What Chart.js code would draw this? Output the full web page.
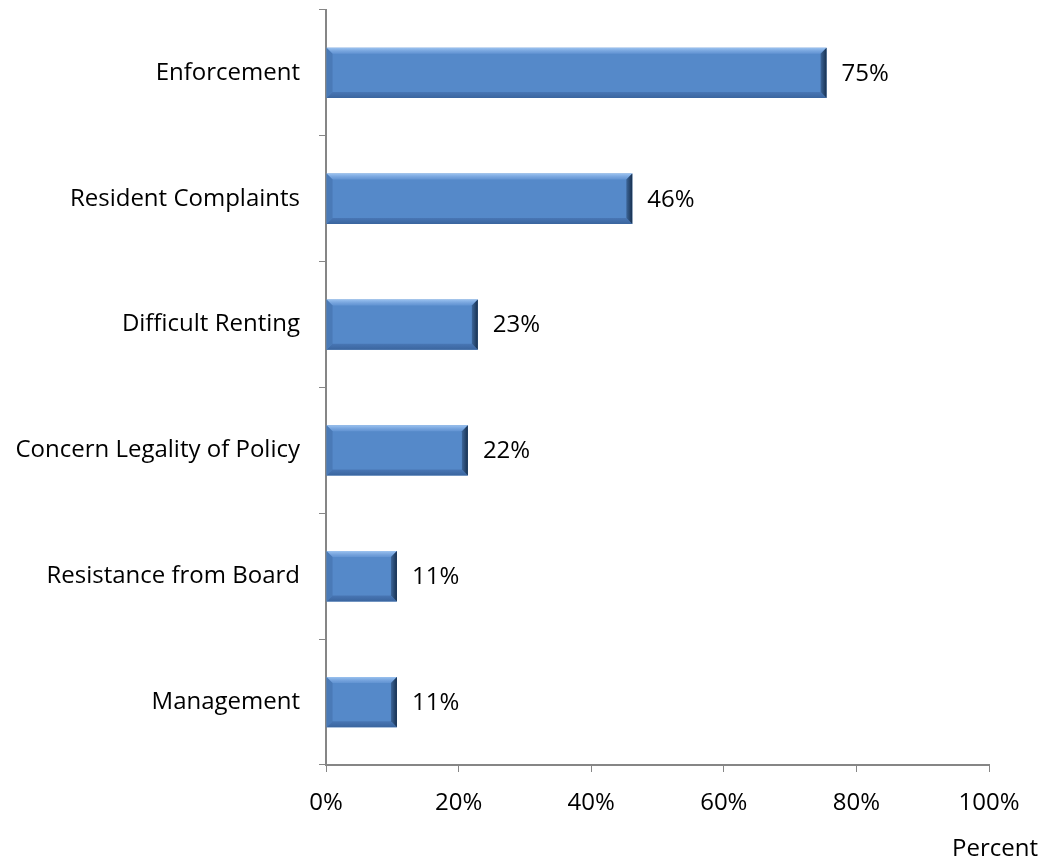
<!DOCTYPE html>
<html lang="en">
<head>
    <meta charset="UTF-8">
    <script src="https://cdn.jsdelivr.net/npm/chart.js"></script>
    <title>Chart</title>
    <style>
        body { margin: 0; background: #fff; }
        #wrap { width: 1042px; height: 859px; }
    </style>
</head>
<body>
    <div id="wrap">
      <canvas id="myChart"></canvas>
    </div>
    <script>
        // data
        const categories = ['Enforcement', 'Resident Complaints', 'Difficult Renting',
            'Concern Legality of Policy', 'Resistance from Board', 'Management'];
        const percents = [75.5, 46.2, 22.9, 21.4, 10.7, 10.7];
        const percentLabels = ['75%', '46%', '23%', '22%', '11%', '11%'];
        const xTicks = [0, 20, 40, 60, 80, 100];

        const fontFam = '"Open Sans", Lato, sans-serif';
        const axisGrey = '#868686';

        // bevel look on each bar
        const bevelPlugin = {
            id: 'bevel',
            afterDatasetsDraw(chart) {
                const ctx = chart.ctx;
                chart.getDatasetMeta(0).data.forEach((bar) => {
                    const left = bar.base, right = bar.x;
                    const top = bar.y - bar.height / 2, bottom = bar.y + bar.height / 2;
                    const b = 6;
                    ctx.save();
                    // top light
                    let g = ctx.createLinearGradient(0, top, 0, top + b);
                    g.addColorStop(0, '#9cc3f0');
                    g.addColorStop(1, 'rgba(120,165,225,0.4)');
                    ctx.fillStyle = g;
                    ctx.beginPath();
                    ctx.moveTo(left, top); ctx.lineTo(right, top);
                    ctx.lineTo(right - b, top + b); ctx.lineTo(left + b, top + b);
                    ctx.closePath(); ctx.fill();
                    // bottom dark
                    g = ctx.createLinearGradient(0, bottom - b, 0, bottom);
                    g.addColorStop(0, 'rgba(60,100,160,0.5)');
                    g.addColorStop(1, '#3a659e');
                    ctx.fillStyle = g;
                    ctx.beginPath();
                    ctx.moveTo(left, bottom); ctx.lineTo(right, bottom);
                    ctx.lineTo(right - b, bottom - b); ctx.lineTo(left + b, bottom - b);
                    ctx.closePath(); ctx.fill();
                    // right dark edge
                    g = ctx.createLinearGradient(right - b, 0, right, 0);
                    g.addColorStop(0, '#3d6699');
                    g.addColorStop(1, '#17304f');
                    ctx.fillStyle = g;
                    ctx.beginPath();
                    ctx.moveTo(right, top); ctx.lineTo(right, bottom);
                    ctx.lineTo(right - b, bottom - b); ctx.lineTo(right - b, top + b);
                    ctx.closePath(); ctx.fill();
                    // left edge
                    ctx.fillStyle = 'rgba(70,115,175,0.7)';
                    ctx.beginPath();
                    ctx.moveTo(left, top); ctx.lineTo(left, bottom);
                    ctx.lineTo(left + b, bottom - b); ctx.lineTo(left + b, top + b);
                    ctx.closePath(); ctx.fill();
                    ctx.restore();
                });
            }
        };

        // value labels and the axis title
        const textPlugin = {
            id: 'texts',
            afterDraw(chart) {
                const ctx = chart.ctx;
                ctx.save();
                ctx.font = '24px ' + fontFam;
                ctx.fillStyle = '#000';
                ctx.textBaseline = 'middle';
                ctx.textAlign = 'left';
                chart.getDatasetMeta(0).data.forEach((bar, i) => {
                    ctx.fillText(percentLabels[i], bar.x + 15, bar.y + 1);
                });
                ctx.textBaseline = 'alphabetic';
                ctx.textAlign = 'right';
                ctx.fillText('Percent', chart.width - 4, chart.height - 3);
                ctx.restore();
            }
        };

        const ctx = document.getElementById('myChart');
        new Chart(ctx, {
            type: 'bar',
            data: {
                labels: categories,
                datasets: [{
                    data: percents,
                    backgroundColor: '#5589c9',
                    borderWidth: 0,
                    barPercentage: 0.4,
                    categoryPercentage: 1
                }]
            },
            options: {
                indexAxis: 'y',
                responsive: true,
                maintainAspectRatio: false,
                animation: false,
                layout: { padding: { top: 10, right: 53, bottom: 0, left: 0 } },
                plugins: { legend: { display: false }, tooltip: { enabled: false } },
                scales: {
                    x: {
                        min: 0, max: 100,
                        afterBuildTicks: (scale) => { scale.ticks = xTicks.map(v => ({ value: v })); },
                        afterFit: (scale) => { scale.height = 94; scale.paddingLeft = 0; scale.paddingRight = 0; },
                        ticks: {
                            callback: (v) => v + '%',
                            color: '#000',
                            font: { family: fontFam, size: 24 },
                            padding: 17,
                            maxRotation: 0
                        },
                        grid: { drawOnChartArea: false, color: axisGrey, tickLength: 7, tickColor: axisGrey },
                        border: { color: axisGrey, width: 2 }
                    },
                    y: {
                        afterFit: (scale) => { scale.width = 326; scale.paddingTop = 0; scale.paddingBottom = 0; },
                        ticks: {
                            color: '#000',
                            font: { family: fontFam, size: 24 },
                            padding: 19
                        },
                        grid: { drawOnChartArea: false, color: axisGrey, tickLength: 7, offset: true, tickColor: axisGrey },
                        border: { color: axisGrey, width: 2 }
                    }
                }
            },
            plugins: [bevelPlugin, textPlugin]
        });
    </script>
</body>
</html>
